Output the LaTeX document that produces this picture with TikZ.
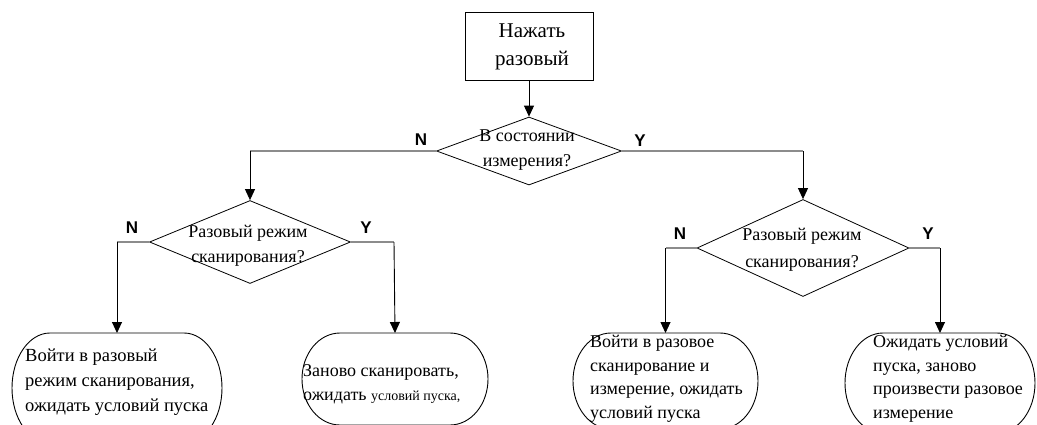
\documentclass[tikz,border=0pt]{standalone}
\usepackage{fontspec}
\setmainfont{Liberation Serif}
\newfontfamily\labfont{Liberation Sans}
\usetikzlibrary{arrows.meta,shapes.geometric}
\tikzset{
  box/.style={draw,line width=0.9pt,inner sep=0pt,minimum width=128pt,minimum height=68pt},
  dec/.style={draw,diamond,line width=0.8pt,inner sep=0pt},
  term/.style={rectangle,inner sep=0pt,outer sep=0pt},
  termline/.style={draw,line width=0.9pt},
  txt/.style={inner sep=0pt,font=\fontsize{18}{25}\selectfont},
  lab/.style={inner sep=0pt,font=\labfont\bfseries\fontsize{17}{17}\selectfont},
  hl/.style={draw=black!45,line width=1.6pt},
  arr/.style={draw=black,line width=0.9pt,-{Triangle[width=10pt,length=11pt]}},
}
\newcommand\termshape[2]{%
  \draw[termline] ([xshift=38pt]#1.north west) -- ([xshift=-38pt]#1.north east)
    arc[start angle=-90,end angle=90,x radius=38,y radius=#2]
    -- ([xshift=38pt]#1.south west)
    arc[start angle=90,end angle=270,x radius=38,y radius=#2] -- cycle;}
\begin{document}
\begin{tikzpicture}[x=1pt,y=-1pt]
\clip (0,0) rectangle (1037,424);
\fill[white] (0,0) rectangle (1037,424);
% start
\node[box] (start) at (529,46) {};
\node[txt,align=center,font=\fontsize{21}{28}\selectfont] (starttxt) at (532,47) {Нажать\\разовый};
% decisions
\node[dec,minimum width=185pt,minimum height=68pt] (d0) at (529,151) {};
\node[txt,align=center] (d0t) at (527,150) {В состоянии\\измерения?};
\node[dec,minimum width=201pt,minimum height=83pt] (d1) at (250,242) {};
\node[txt,align=center] (d1t) at (248,246) {Разовый режим\\сканирования?};
\node[dec,minimum width=212pt,minimum height=97pt] (d2) at (803,248) {};
\node[txt,align=center,font=\fontsize{18}{27}\selectfont] (d2t) at (802,250) {Разовый режим\\сканирования?};
% terminals
\node[term,minimum width=210pt,minimum height=110pt] (t1) at (117,388) {};
\node[term,minimum width=186pt,minimum height=92pt] (t2) at (395,379) {};
\node[term,minimum width=185pt,minimum height=96pt] (t3) at (665.5,381) {};
\node[term,minimum width=190pt,minimum height=100pt] (t4) at (940,383) {};
\termshape{t1}{55}
\termshape{t2}{46}
\termshape{t3}{48}
\termshape{t4}{50}
\node[txt,align=left,anchor=north west,font=\fontsize{18.5}{25}\selectfont] (t1t) at (25,349) {Войти в разовый\\режим сканирования,\\ожидать условий пуска};
\node[txt,align=left,anchor=north west,font=\fontsize{18}{24}\selectfont] (t2t) at (303,364) {Заново сканировать,\\ожидать {\fontsize{14}{24}\selectfont условий пуска,}};
\node[txt,align=left,anchor=north west,font=\fontsize{18}{23.5}\selectfont] (t3t) at (590,335) {Войти в разовое\\сканирование и\\измерение, ожидать\\условий пуска};
\node[txt,align=left,anchor=north west,font=\fontsize{18}{23.5}\selectfont] (t4t) at (873,335) {Ожидать условий\\пуска, заново\\произвести разовое\\измерение};
% corners
\coordinate (c0l) at (250,151);
\coordinate (c0r) at (803,151);
\coordinate (c1l) at (117,242);
\coordinate (c1r) at (394,242);
\coordinate (c2l) at (665.5,248);
\coordinate (c2r) at (940,248);
% connectors
\draw[arr] (start) -- (d0);
\draw[hl] (d0.west) -- (c0l);
\draw[arr] (c0l) -- (d1.north);
\draw[hl] (d0.east) -- (c0r);
\draw[arr] (c0r) -- (d2.north);
\draw[hl] (d1.west) -- (c1l);
\draw[arr] (c1l) -- (t1.north);
\draw[hl] (d1.east) -- (c1r);
\draw[arr] (c1r) -- (t2.north);
\draw[hl] (d2.west) -- (c2l);
\draw[arr] (c2l) -- (t3.north);
\draw[hl] (d2.east) -- (c2r);
\draw[arr] (c2r) -- (t4.north);
% labels
\node[lab] (n0) at (421,140) {N};
\node[lab] (y0) at (640,141) {Y};
\node[lab] (n1) at (132,228) {N};
\node[lab] (y1) at (366,228) {Y};
\node[lab] (n2) at (680,234) {N};
\node[lab] (y2) at (928,234) {Y};
\end{tikzpicture}
\end{document}
